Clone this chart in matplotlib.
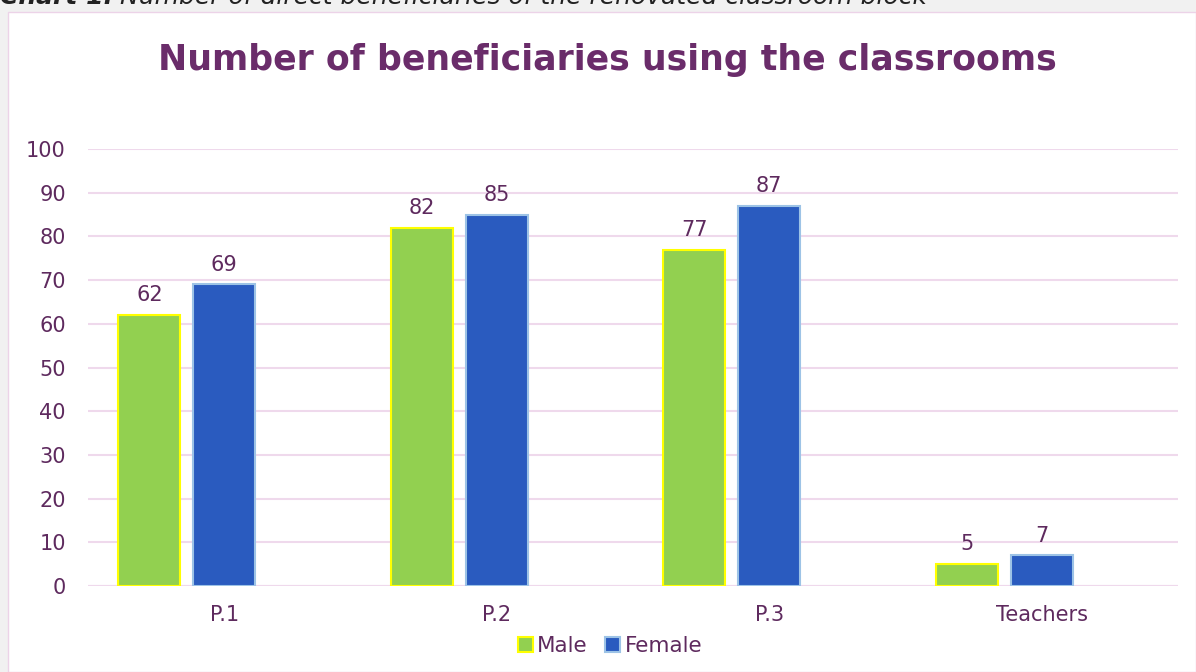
import numpy as np
import matplotlib.pyplot as plt
from matplotlib.patches import Rectangle

categories = ["P.1", "P.2", "P.3", "Teachers"]
male = [62, 82, 77, 5]
female = [69, 85, 87, 7]

txt = "#5e2a5e"
grid = "#efd9ec"

fig = plt.figure(figsize=(11.96, 6.72), dpi=100)
fig.patch.set_facecolor("#f1f1f1")

# white chart area
fig.patches.append(Rectangle((8 / 1196, 0), 1 - 8 / 1196, 1 - 12 / 672,
                             transform=fig.transFigure, facecolor="white",
                             edgecolor="#ecd3e8", linewidth=1, zorder=-10))

ax = fig.add_axes([88 / 1196, 86 / 672, 1090 / 1196, (586 - 149) / 672])
ax.set_facecolor("white")

# caption clipped at top
t1 = fig.text(0.0, 1 - 9 / 672, "Chart 1:", fontsize=18, fontstyle="italic",
              fontweight="bold", color="#222222", va="bottom", ha="left")
ax.annotate("Number of direct beneficiaries of the renovated classroom block",
            xy=(1, 0), xycoords=t1, xytext=(5, 0), textcoords="offset points",
            fontsize=18, fontstyle="italic", color="#222222", va="bottom", ha="left",
            annotation_clip=False)

x = np.arange(len(categories))
w = 0.227
bm = ax.bar(x - 0.275, male, w, color="#92d050", edgecolor="#ffff00",
            linewidth=1.5, label="Male", zorder=3)
bf = ax.bar(x, female, w, color="#2a5bbf", edgecolor="#9dc3e6",
            linewidth=1.5, label="Female", zorder=3)

for bars in (bm, bf):
    for b in bars:
        ax.annotate(f"{int(b.get_height())}", (b.get_x() + b.get_width() / 2, b.get_height()),
                    xytext=(0, 7), textcoords="offset points", ha="center", va="bottom",
                    fontsize=15, color=txt)

ax.set_xlim(-0.5, 3.5)
ax.set_ylim(0, 100)
ax.set_yticks(range(0, 101, 10))
ax.set_xticks(x)
ax.set_xticklabels(categories)
ax.tick_params(axis="both", length=0, labelsize=15, labelcolor=txt)
ax.tick_params(axis="y", pad=16)
ax.tick_params(axis="x", pad=14)
ax.yaxis.grid(True, color=grid, linewidth=1.5, zorder=0)
ax.set_axisbelow(True)
for s in ax.spines.values():
    s.set_visible(False)
ax.axhline(0, color=grid, linewidth=1.5, zorder=1)

fig.text(0.508, 1 - 60 / 672, "Number of beneficiaries using the classrooms",
         ha="center", va="center", fontsize=25, fontweight="bold", color="#6a2c6a")

leg = fig.legend(handles=[bm, bf], loc="center", bbox_to_anchor=(0.51, 1 - 646 / 672),
                 ncol=2, frameon=False, fontsize=15.5, handlelength=0.7, handleheight=0.7,
                 handletextpad=0.2, columnspacing=0.8)
for t in leg.get_texts():
    t.set_color(txt)

fig.savefig("out.png", dpi=100, facecolor=fig.get_facecolor())
